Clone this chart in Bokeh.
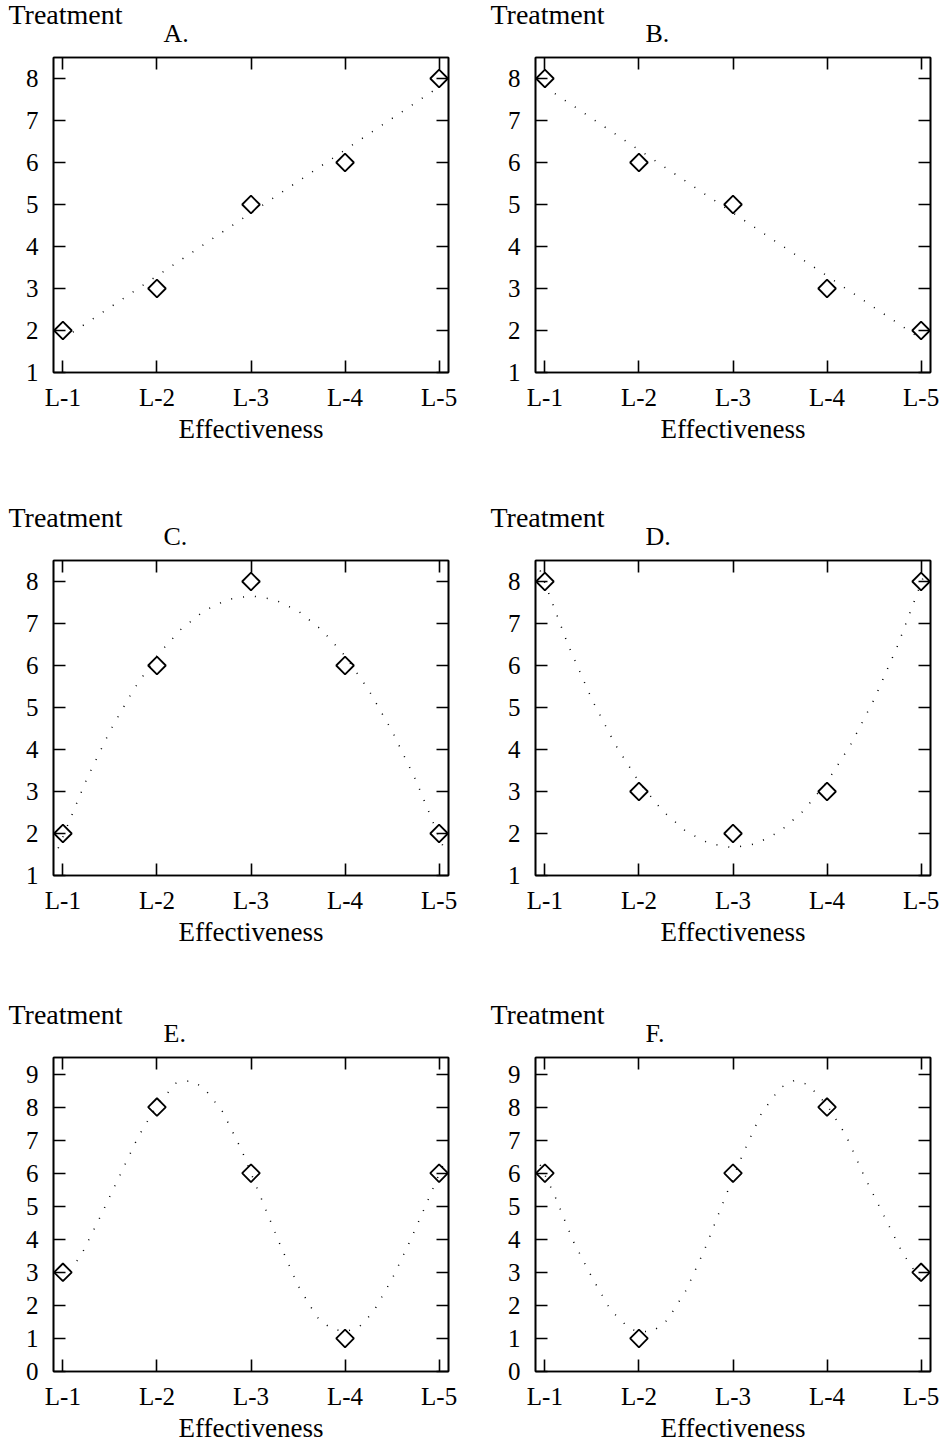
import numpy as np
from bokeh.plotting import figure
from bokeh.models import Range1d, FixedTicker, LinearAxis, Title
from bokeh.layouts import column, row
from bokeh.embed import file_html
from bokeh.resources import INLINE

# ---------------- data ----------------
levels = ["L-1", "L-2", "L-3", "L-4", "L-5"]
level_pos = [1, 2, 3, 4, 5]

letters = ["A.", "B.", "C.", "D.", "E.", "F."]

treat_A = [2, 3, 5, 6, 8]
treat_B = [8, 6, 5, 3, 2]
treat_C = [2, 6, 8, 6, 2]
treat_D = [8, 3, 2, 3, 8]
treat_E = [3, 8, 6, 1, 6]
treat_F = [6, 1, 6, 8, 3]

# dotted fitted curves
curve_A_x = [1.0, 5.0]
curve_A_y = [1.8, 7.8]
curve_B_x = [1.0, 5.0]
curve_B_y = [7.8, 1.8]
curve_C_x = [0.95, 1.25, 1.5, 1.75, 2.0, 2.25, 2.5, 2.75, 3.0, 3.25, 3.5, 3.75, 4.0, 4.25, 4.5, 4.75, 5.05]
curve_C_y = [1.65, 3.28, 4.44, 5.42, 6.23, 6.85, 7.30, 7.57, 7.66, 7.57, 7.30, 6.85, 6.23, 5.42, 4.44, 3.28, 1.65]
curve_D_x = [0.95, 1.25, 1.5, 1.75, 2.0, 2.25, 2.5, 2.75, 3.0, 3.25, 3.5, 3.75, 4.0, 4.25, 4.5, 4.75, 5.05]
curve_D_y = [8.26, 6.47, 5.19, 4.11, 3.23, 2.54, 2.05, 1.76, 1.66, 1.76, 2.05, 2.54, 3.23, 4.11, 5.19, 6.47, 8.26]
curve_E_x = [1.0, 1.2, 1.4, 1.6, 1.8, 2.0, 2.2, 2.36, 2.5, 2.7, 2.9, 3.1, 3.3, 3.5, 3.7, 3.85, 4.0, 4.15, 4.3, 4.5, 4.7, 4.9, 5.05]
curve_E_y = [2.75, 3.55, 4.7, 5.9, 7.1, 8.05, 8.72, 8.80, 8.58, 7.85, 6.7, 5.3, 3.9, 2.6, 1.65, 1.3, 1.2, 1.35, 1.8, 2.8, 4.0, 5.3, 6.3]
curve_F_x = [0.95, 1.1, 1.3, 1.5, 1.7, 1.9, 2.0, 2.15, 2.3, 2.5, 2.7, 2.9, 3.1, 3.3, 3.5, 3.65, 3.8, 4.0, 4.2, 4.4, 4.6, 4.8, 5.0]
curve_F_y = [6.25, 5.35, 3.95, 2.85, 1.85, 1.3, 1.2, 1.22, 1.55, 2.45, 3.7, 5.15, 6.55, 7.8, 8.58, 8.8, 8.68, 8.06, 7.15, 5.88, 4.74, 3.6, 2.75]

yticks_low = [1, 2, 3, 4, 5, 6, 7, 8]
yticks_wide = [0, 1, 2, 3, 4, 5, 6, 7, 8, 9]

x_label = "Effectiveness"
y_label = "Treatment"

# ---------------- layout constants ----------------
FONT = "Liberation Serif"
FRAME_W, FRAME_H = 395, 315
BORDER_TOP = 57
BORDER_LEFT = 53
COL_RIGHT = [34, 12]
ROW_H = [503, 497, 445]


def make_panel(letter, vals, cx, cy, yr, yticks, col, rowi):
    W = BORDER_LEFT + FRAME_W + COL_RIGHT[col]
    H = ROW_H[rowi]
    p = figure(width=W, height=H, x_range=Range1d(0.9, 5.1), y_range=Range1d(*yr),
               output_backend="svg", toolbar_location=None, tools="",
               title_location=None,
               min_border_left=BORDER_LEFT, min_border_right=COL_RIGHT[col],
               min_border_top=BORDER_TOP, min_border_bottom=H - BORDER_TOP - FRAME_H)
    p.background_fill_color = "white"
    p.border_fill_color = "white"
    p.outline_line_color = "black"
    p.outline_line_width = 1.6
    p.xgrid.visible = False
    p.ygrid.visible = False

    xa = p.xaxis[0]
    xa.ticker = FixedTicker(ticks=level_pos)
    xa.major_label_overrides = {pos: lab for pos, lab in zip(level_pos, levels)}
    xa.axis_label = x_label
    xa.axis_label_text_font = FONT
    xa.axis_label_text_font_size = "27px"
    xa.axis_label_text_font_style = "normal"
    xa.axis_label_text_color = "black"
    xa.axis_label_standoff = 0
    ya = p.yaxis[0]
    ya.ticker = FixedTicker(ticks=yticks)
    for ax in (xa, ya):
        ax.major_tick_in = 12
        ax.major_tick_out = 0
        ax.minor_tick_line_color = None
        ax.axis_line_width = 1.6
        ax.major_tick_line_width = 1.6
        ax.major_label_text_font = FONT
        ax.major_label_text_font_size = "25px"
        ax.major_label_text_color = "black"
    xa.major_label_standoff = 11
    ya.major_label_standoff = 15

    ra = LinearAxis(ticker=FixedTicker(ticks=yticks))
    ta = LinearAxis(ticker=FixedTicker(ticks=level_pos))
    for ax in (ra, ta):
        ax.major_tick_in = 12
        ax.major_tick_out = 0
        ax.minor_tick_line_color = None
        ax.axis_line_width = 1.6
        ax.major_tick_line_width = 1.6
        ax.major_label_text_font_size = "0px"
        ax.major_label_text_color = None
        ax.major_label_standoff = 0
    p.add_layout(ra, "right")
    p.add_layout(ta, "above")

    p.add_layout(Title(text=letter, align="left", offset=110, standoff=20,
                       text_font=FONT, text_font_size="26px", text_font_style="normal",
                       text_color="black"), "above")
    p.add_layout(Title(text=y_label, align="left", offset=-45, standoff=-46,
                       text_font=FONT, text_font_size="28px", text_font_style="normal",
                       text_color="black"), "above")

    p.line(cx, cy, line_color="black", line_width=1.5, line_dash="1 11")
    p.scatter(level_pos, vals, marker="square", angle=np.pi / 4, size=12.5,
              fill_color=None, line_color="black", line_width=1.8)
    return p


pA = make_panel(letters[0], treat_A, curve_A_x, curve_A_y, (1, 8.5), yticks_low, 0, 0)
pB = make_panel(letters[1], treat_B, curve_B_x, curve_B_y, (1, 8.5), yticks_low, 1, 0)
pC = make_panel(letters[2], treat_C, curve_C_x, curve_C_y, (1, 8.5), yticks_low, 0, 1)
pD = make_panel(letters[3], treat_D, curve_D_x, curve_D_y, (1, 8.5), yticks_low, 1, 1)
pE = make_panel(letters[4], treat_E, curve_E_x, curve_E_y, (0, 9.5), yticks_wide, 0, 2)
pF = make_panel(letters[5], treat_F, curve_F_x, curve_F_y, (0, 9.5), yticks_wide, 1, 2)

layout = column(row(pA, pB), row(pC, pD), row(pE, pF))

open("out.html", "w").write(file_html(layout, INLINE))
